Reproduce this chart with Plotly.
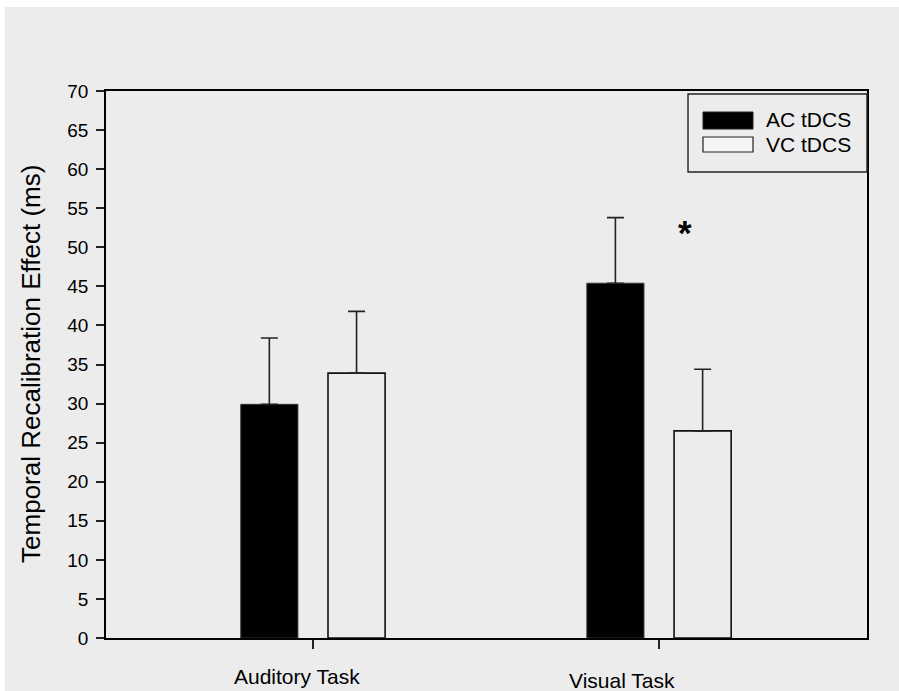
import plotly.graph_objects as go

# ---- data ----
tasks = ["Auditory Task", "Visual Task"]
ac_mean = [29.9, 45.4]
ac_err = [8.5, 8.4]
vc_mean = [33.9, 26.5]
vc_err = [7.9, 7.9]
series_names = ["AC tDCS", "VC tDCS"]
y_ticks = list(range(0, 75, 5))

BG = "#ececec"
FONT = "Liberation Sans, Arial, sans-serif"

fig = go.Figure()
fig.add_trace(go.Bar(
    x=tasks, y=ac_mean, name=series_names[0],
    width=0.165, offset=-0.2085,
    marker=dict(color="black", line=dict(color="#333333", width=1)),
    error_y=dict(type="data", symmetric=False, array=ac_err,
                 arrayminus=[0] * len(ac_err), color="#222222",
                 thickness=1.6, width=8.5),
    showlegend=False,
))
fig.add_trace(go.Bar(
    x=tasks, y=vc_mean, name=series_names[1],
    width=0.165, offset=0.0435,
    marker=dict(color=BG, line=dict(color="#111111", width=1.6)),
    error_y=dict(type="data", symmetric=False, array=vc_err,
                 arrayminus=[0] * len(vc_err), color="#222222",
                 thickness=1.6, width=8.5),
    showlegend=False,
))

shapes = [
    # grey page background with a thin white strip at top/left
    dict(type="rect", xref="paper", yref="paper", x0=-0.1327, x1=1.05,
         y0=-0.11, y1=1.1536, fillcolor=BG, line=dict(width=0), layer="below"),
    # legend box
    dict(type="rect", xref="paper", yref="paper", x0=0.7648, x1=1.0,
         y0=0.8519, y1=0.9945, fillcolor=BG, line=dict(color="#222222", width=1.4)),
    dict(type="rect", xref="paper", yref="paper", x0=0.7845, x1=0.8502,
         y0=0.9305, y1=0.9616, fillcolor="black", line=dict(color="#222222", width=1)),
    dict(type="rect", xref="paper", yref="paper", x0=0.7845, x1=0.8502,
         y0=0.8885, y1=0.9159, fillcolor="#f5f5f5", line=dict(color="#222222", width=1.2)),
]

annotations = [
    dict(text=series_names[0], xref="paper", yref="paper", x=0.8647, y=0.947,
         xanchor="left", yanchor="middle", showarrow=False,
         font=dict(size=21, color="black", family=FONT)),
    dict(text=series_names[1], xref="paper", yref="paper", x=0.8647, y=0.9031,
         xanchor="left", yanchor="middle", showarrow=False,
         font=dict(size=21, color="black", family=FONT)),
    # category labels
    dict(text=tasks[0], xref="x", yref="paper", x=-0.046, y=-0.0695,
         xanchor="center", yanchor="middle", showarrow=False,
         font=dict(size=21, color="black", family=FONT)),
    dict(text=tasks[1], xref="x", yref="paper", x=0.893, y=-0.0786,
         xanchor="center", yanchor="middle", showarrow=False,
         font=dict(size=21, color="black", family=FONT)),
    # y title
    dict(text="Temporal Recalibration Effect (ms)", xref="paper", yref="paper",
         x=-0.0986, y=0.501, xanchor="center", yanchor="middle", textangle=-90,
         showarrow=False, font=dict(size=26, color="black", family=FONT)),
    # significance marker
    dict(text="<b>*</b>", xref="x", yref="y", x=1.075, y=51.9,
         xanchor="center", yanchor="middle", showarrow=False,
         font=dict(size=35, color="black", family=FONT)),
]

fig.update_layout(
    width=899, height=691,
    margin=dict(l=106, r=32, t=91, b=53),
    paper_bgcolor="white",
    plot_bgcolor="rgba(0,0,0,0)",
    barmode="overlay",
    shapes=shapes,
    annotations=annotations,
    font=dict(family=FONT, color="black"),
    xaxis=dict(type="category", categoryorder="array", categoryarray=tasks,
               range=[-0.598, 1.601], showgrid=False, zeroline=False,
               showline=True, linecolor="black", linewidth=1.5, mirror=True,
               ticks="outside", ticklen=9, tickwidth=1.5, tickcolor="#222222",
               showticklabels=False),
    yaxis=dict(range=[0, 70], tickvals=y_ticks, ticktext=[str(v) for v in y_ticks],
               showgrid=False, zeroline=False,
               showline=True, linecolor="black", linewidth=1.5, mirror=True,
               ticks="outside", ticklen=8, tickwidth=1.5, tickcolor="#222222",
               ticklabelstandoff=4,
               tickfont=dict(size=19, color="black", family=FONT)),
)

fig.write_html("out.html")
